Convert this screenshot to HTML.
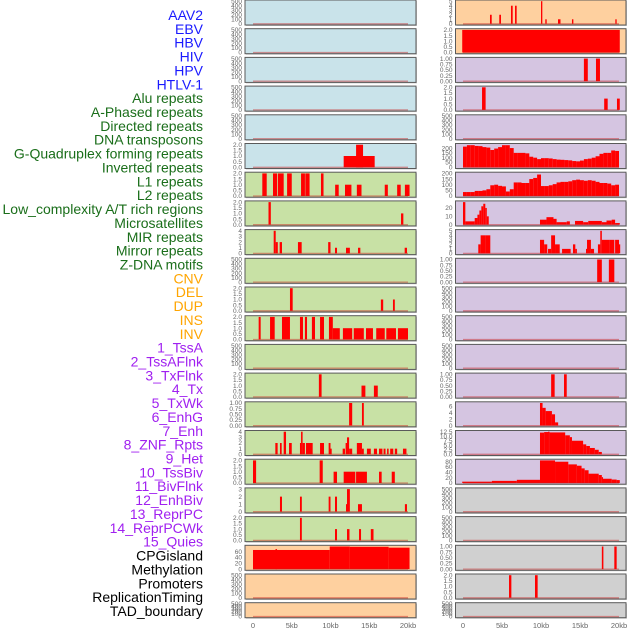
<!DOCTYPE html>
<html><head><meta charset="utf-8">
<style>
html,body{margin:0;padding:0;background:#fff;width:630px;height:630px;overflow:hidden;}
svg{display:block;font-family:"Liberation Sans",sans-serif;}
</style></head>
<body>
<svg id="chart" width="630" height="630" viewBox="0 0 630 630"></svg>
<script>
// ---- track labels ----
const trackLabels = ["AAV2","EBV","HBV","HIV","HPV","HTLV-1","Alu repeats","A-Phased repeats","Directed repeats","DNA transposons","G-Quadruplex forming repeats","Inverted repeats","L1 repeats","L2 repeats","Low_complexity A/T rich regions","Microsatellites","MIR repeats","Mirror repeats","Z-DNA motifs","CNV","DEL","DUP","INS","INV","1_TssA","2_TssAFlnk","3_TxFlnk","4_Tx","5_TxWk","6_EnhG","7_Enh","8_ZNF_Rpts","9_Het","10_TssBiv","11_BivFlnk","12_EnhBiv","13_ReprPC","14_ReprPCWk","15_Quies","CPGisland","Methylation","Promoters","ReplicationTiming","TAD_boundary"];
const labelGroups = ["virus","virus","virus","virus","virus","virus","repeat","repeat","repeat","repeat","repeat","repeat","repeat","repeat","repeat","repeat","repeat","repeat","repeat","sv","sv","sv","sv","sv","chrom","chrom","chrom","chrom","chrom","chrom","chrom","chrom","chrom","chrom","chrom","chrom","chrom","chrom","chrom","other","other","other","other","other"];

// ---- x axis ----
const xTickValues = [0,5,10,15,20];
const xTickLabels = ["0","5kb","10kb","15kb","20kb"];

// ---- tick sets ----
const ticksEmpty = [0,100,200,300,400,500];
const ticksTwo = [0,0.5,1,1.5,2];
const ticksOne = [0,0.25,0.5,0.75,1];
const ticksFour = [0,1,2,3,4];
const ticksThree = [0,1,2,3];
const ticksFive = [0,1,2,3,4,5];

// ---- left column panels (22 rows): background, max, ticks ----
const leftBg = ["blue","blue","blue","blue","blue","blue","green","green","green","green","green","green","green","green","green","green","green","green","green","orange","orange","orange"];
const leftMax = [500,500,500,500,500,2,2,2,4,500,2,2,500,2,1,4,2,3,2,78,500,500];
const leftTicks = [ticksEmpty,ticksEmpty,ticksEmpty,ticksEmpty,ticksEmpty,ticksTwo,ticksTwo,ticksTwo,ticksFour,ticksEmpty,ticksTwo,ticksTwo,ticksEmpty,ticksTwo,ticksOne,ticksFour,ticksTwo,ticksThree,ticksTwo,[0,20,40,60],ticksEmpty,ticksEmpty];

// left bar segments [startKb, endKb, value]
const L5 = [[11.7,15.7,1],[13.3,14.2,2]];
const L6 = [[1.2,1.77,2],[2.58,3.1,2],[3.2,3.96,2],[4.4,5.0,2],[6.2,6.7,2],[6.75,7.3,2],[8.77,9.1,2],[10.6,11.06,1],[11.87,12.7,1],[13.4,14.0,1],[17.0,17.4,1],[18.6,19.06,1],[19.6,20.2,1]];
const L7 = [[2.0,2.3,2],[19.1,19.4,1]];
const L8 = [[2.67,2.93,4],[2.93,3.2,2],[3.44,3.74,2],[5.8,6.28,2],[9.7,10.0,2],[10.58,10.84,1],[12.0,12.5,1],[13.55,13.85,1],[19.57,19.87,1]];
const L10 = [[4.77,5.12,2],[16.5,16.8,1],[18.06,18.3,1]];
const L11 = [[0.73,0.99,2],[2.2,2.8,2],[3.74,4.77,2],[6.06,6.45,2],[6.7,6.97,2],[7.6,8.0,2],[8.65,9.16,2],[9.8,10.3,2],[10.3,11.2,1],[11.6,12.8,1],[13.0,14.3,1],[14.58,15.48,1],[15.9,17.0,1],[17.2,18.45,1],[18.7,20.0,1]];
const L13 = [[8.5,8.85,2],[14.0,14.5,1],[15.6,16.1,1]];
const L14 = [[12.4,12.8,1],[14.06,14.3,1]];
const L15 = [[2.88,3.18,2],[3.48,3.7,2],[3.96,4.26,4],[4.65,5.0,2],[6.06,6.2,2],[6.2,6.4,4],[6.4,6.7,2],[6.84,7.7,2],[8.65,9.16,2],[9.76,10.0,2],[10.0,10.15,1],[11.57,11.87,1],[11.95,12.13,2],[12.13,12.4,3],[12.4,12.8,1],[13.4,14.06,2],[14.06,14.3,1],[14.7,15.2,1],[15.6,16.0,1],[16.26,16.7,1],[16.85,17.1,1],[17.3,17.5,1],[17.7,18.1,1],[18.3,18.6,1],[19.35,19.8,1]];
const L16 = [[0.0,0.4,2],[8.6,9.0,2],[10.4,10.84,1],[11.7,13.2,1],[13.3,14.7,1],[16.26,16.6,1],[17.9,18.3,1]];
const L17 = [[3.48,3.74,2],[6.06,6.3,2],[9.76,10.0,2],[10.58,10.84,2],[12.0,12.2,1],[12.13,12.5,3],[13.55,14.06,1],[19.6,19.87,1]];
const L18 = [[6.06,6.3,2],[10.58,10.84,1],[12.13,12.45,1],[13.68,13.94,1],[15.2,15.55,1]];
const L19 = [[0,9.9,66],[2.9,3.1,69],[9.9,12.5,78],[12.5,17.5,77],[17.5,20.2,74]];
const leftBars = [[],[],[],[],[],L5,L6,L7,L8,[],L10,L11,[],L13,L14,L15,L16,L17,L18,L19,[],[]];

// ---- right column panels ----
const rightBg = ["orange","orange","purple","purple","purple","purple","purple","purple","purple","purple","purple","purple","purple","purple","purple","purple","purple","gray","gray","gray","gray","gray"];
const rightMax = [5,2,1,2,500,235,200,27,5,1,500,500,500,1,7,12.5,85,500,500,1,2,500];
const rightTicks = [ticksFive,ticksTwo,ticksOne,ticksTwo,ticksEmpty,[0,50,100,150,200],[0,50,100,150,200],[0,10,20],ticksFive,ticksOne,ticksEmpty,ticksEmpty,ticksEmpty,ticksOne,[0,2,4,6],[0,2.5,5,7.5,10,12.5],[0,20,40,60,80],ticksEmpty,ticksEmpty,ticksOne,ticksTwo,ticksEmpty];

const R0 = [[3.46,3.68,2],[4.65,4.87,2],[6.15,6.37,4],[6.67,6.88,4],[10.0,10.17,5],[10.55,10.73,1],[12.18,12.5,1],[13.97,14.15,1],[19.53,19.7,1]];
const R1 = [[-0.1,20.1,2]];
const R2 = [[15.5,16.0,1],[17.05,17.56,1]];
const R3 = [[2.44,2.9,2],[18.1,18.55,1],[19.74,20.1,1]];
// profile rows as 0.5kb bins
const binStarts = [0,0.5,1,1.5,2,2.5,3,3.5,4,4.5,5,5.5,6,6.5,7,7.5,8,8.5,9,9.5,10,10.5,11,11.5,12,12.5,13,13.5,14,14.5,15,15.5,16,16.5,17,17.5,18,18.5,19,19.5];
const R5values = [215,230,230,222,220,210,205,180,195,210,230,230,200,150,150,150,145,110,100,85,95,95,92,85,80,78,75,72,65,62,70,85,90,100,115,140,150,150,175,170];
const R6values = [35,35,35,45,45,50,60,95,100,90,85,40,60,120,120,115,115,150,160,190,88,88,95,105,120,125,125,130,140,145,140,135,140,135,125,115,115,110,95,100];
const R7 = [[0,0.3,27],[0.3,1.5,4],[1.5,1.85,8],[1.85,2.1,12],[2.1,2.35,17],[2.35,2.6,22],[2.6,2.86,25],[2.86,3.05,20],[3.05,3.3,10],[9.87,10.7,6],[10.7,11.6,9],[11.6,12,7],[12,13.3,3],[13.3,13.7,4],[14.36,15.4,4.5],[15.4,16.06,3],[16.06,17.8,4.5],[17.8,18.4,3],[18.4,19.06,5],[19.06,19.5,6],[19.5,20.1,2]];
const R8 = [[1.96,2.26,2],[2.26,2.9,4],[2.9,3.5,4],[9.87,10.4,3],[10.4,10.8,2],[10.9,11.3,1],[11.3,11.8,4],[11.8,12.4,2],[12.7,13.8,1],[14.1,14.4,2],[14.4,14.6,1],[15.77,15.9,1],[15.9,16.4,3],[16.4,16.8,1],[17.3,17.6,2],[17.6,17.8,5],[17.8,18.8,3],[18.8,19.4,3],[19.5,20.0,3],[20.0,20.1,2]];
const R9 = [[17.2,17.8,1],[18.7,19.4,1]];
const R13 = [[11.3,11.75,1],[12.95,13.3,1]];
const R14 = [[9.87,10.2,7],[10.2,10.6,5.5],[10.6,11.4,4.5],[11.4,11.8,3.5],[11.8,12.2,1]];
const R15 = [[9.87,10.4,12],[10.4,10.9,12.3],[10.9,11.1,12.5],[11.1,13.1,12.1],[13.1,13.7,10.5],[13.7,13.97,9.5],[13.97,15.4,7.5],[15.4,15.8,5.5],[15.8,16.27,4.6],[16.27,16.9,3.5],[16.9,17.4,2.5],[17.4,17.8,1.3]];
const R16 = [[-0.1,3.7,5],[3.7,6.9,8],[6.9,9.87,12],[9.87,11.8,85],[11.8,13.5,80],[13.5,14.6,70],[14.6,15.2,65],[15.2,15.6,55],[15.6,16.1,48],[16.1,17.4,35],[17.4,17.8,30],[17.8,17.9,22],[17.9,19.06,16],[19.06,19.7,13],[19.7,20.1,11]];
const R19 = [[17.8,18.0,1],[19.4,19.7,1]];
const R20 = [[5.9,6.2,2],[9.23,9.57,2]];

const bgColors = {blue:"#c9e3ea",green:"#c8e1a5",orange:"#fed09f",purple:"#d5c5e1",gray:"#d0d0d0"};
const labelColors = {virus:"#1a1aff",repeat:"#1a6e1a",sv:"#ffa500",chrom:"#a020f0",other:"#000000"};

const NS = "http://www.w3.org/2000/svg";
const svg = document.getElementById("chart");
function mk(tag, attrs, parent){
  const e = document.createElementNS(NS, tag);
  for (const k in attrs) e.setAttribute(k, attrs[k]);
  (parent||svg).appendChild(e);
  return e;
}
function binsToSegs(starts, vals){
  const out = [];
  for (let i=0;i<starts.length;i++) out.push([starts[i], starts[i]+0.5, vals[i]]);
  return out;
}
const rightBars = [R0,R1,R2,R3,[],binsToSegs(binStarts,R5values),binsToSegs(binStarts,R6values),R7,R8,R9,[],[],[],R13,R14,R15,R16,[],[],R19,R20,[]];

function rowTop(r){ return 28.7*r; }
function rowH(r){ return r===21 ? 15 : 25; }
function fmt(v, ticks){
  const maxT = ticks[ticks.length-1];
  if (ticks.some(t=>Math.abs(t*100-Math.round(t*100))<1e-9 && Math.round(t*100)%50!==0)) return v.toFixed(2);
  if (ticks.some(t=>t%1!==0)) return v.toFixed(1);
  return String(v);
}

// labels
for (let i=0;i<trackLabels.length;i++){
  const t = mk("text",{x:203,y:15+13.86*i+5,"text-anchor":"end","font-size":"14",fill:labelColors[labelGroups[i]]});
  t.textContent = trackLabels[i];
  
  
}

function drawColumn(side, bgs, maxs, tickSets, bars, px0, px1, kx0, kx20){
  const xs = kb => kx0 + (kx20-kx0)*kb/20;
  const g = mk("g",{});
  
  
  for (let r=0;r<bgs.length;r++){
    const top = rowTop(r), h = rowH(r);
    const y0 = top + h - 1.2, y1 = top + 1.2;
    const ys = v => y0 - (y0-y1)*v/maxs[r];
    const pg = mk("g",{},g);
    
    
    mk("rect",{x:px0+1,y:top+1,width:px1-px0,height:h,fill:"#9a9a9a",opacity:0.5},pg);
    const bg = mk("rect",{x:px0,y:top,width:px1-px0,height:h,fill:bgColors[bgs[r]],stroke:"#5a5a5a","stroke-width":1},pg);
    
    
    const ts = tickSets[r];
    for (const tv of ts){
      const tl = mk("text",{x:px0-3,y:ys(tv)+2.2,"text-anchor":"end","font-size":"6.5",fill:"#666"},pg);
      tl.textContent = fmt(tv, ts);
      
      
    }
    for (const s of bars[r]){
      const a = Math.max(px0+1, xs(s[0])), b = Math.min(px1-1, xs(s[1]));
      const bar = mk("rect",{x:a,y:ys(s[2]),width:Math.max(1.2,b-a),height:y0-ys(s[2]),fill:"#ff0000"},pg);
      
      
    }
    const bl = mk("line",{x1:xs(0),x2:xs(20),y1:y0,y2:y0,stroke:"rgba(200,30,30,0.45)","stroke-width":1.3},pg);
    
    
  }
  for (let i=0;i<xTickValues.length;i++){
    const t = mk("text",{x:xs(xTickValues[i]),y:628,"text-anchor":"middle","font-size":"7.5",fill:"#666"},g);
    t.textContent = xTickLabels[i];
    
    
  }
}
drawColumn("left", leftBg, leftMax, leftTicks, leftBars, 245, 416, 253, 408);
drawColumn("right", rightBg, rightMax, rightTicks, rightBars, 455.5, 626, 463, 619);
</script>
</body></html>
